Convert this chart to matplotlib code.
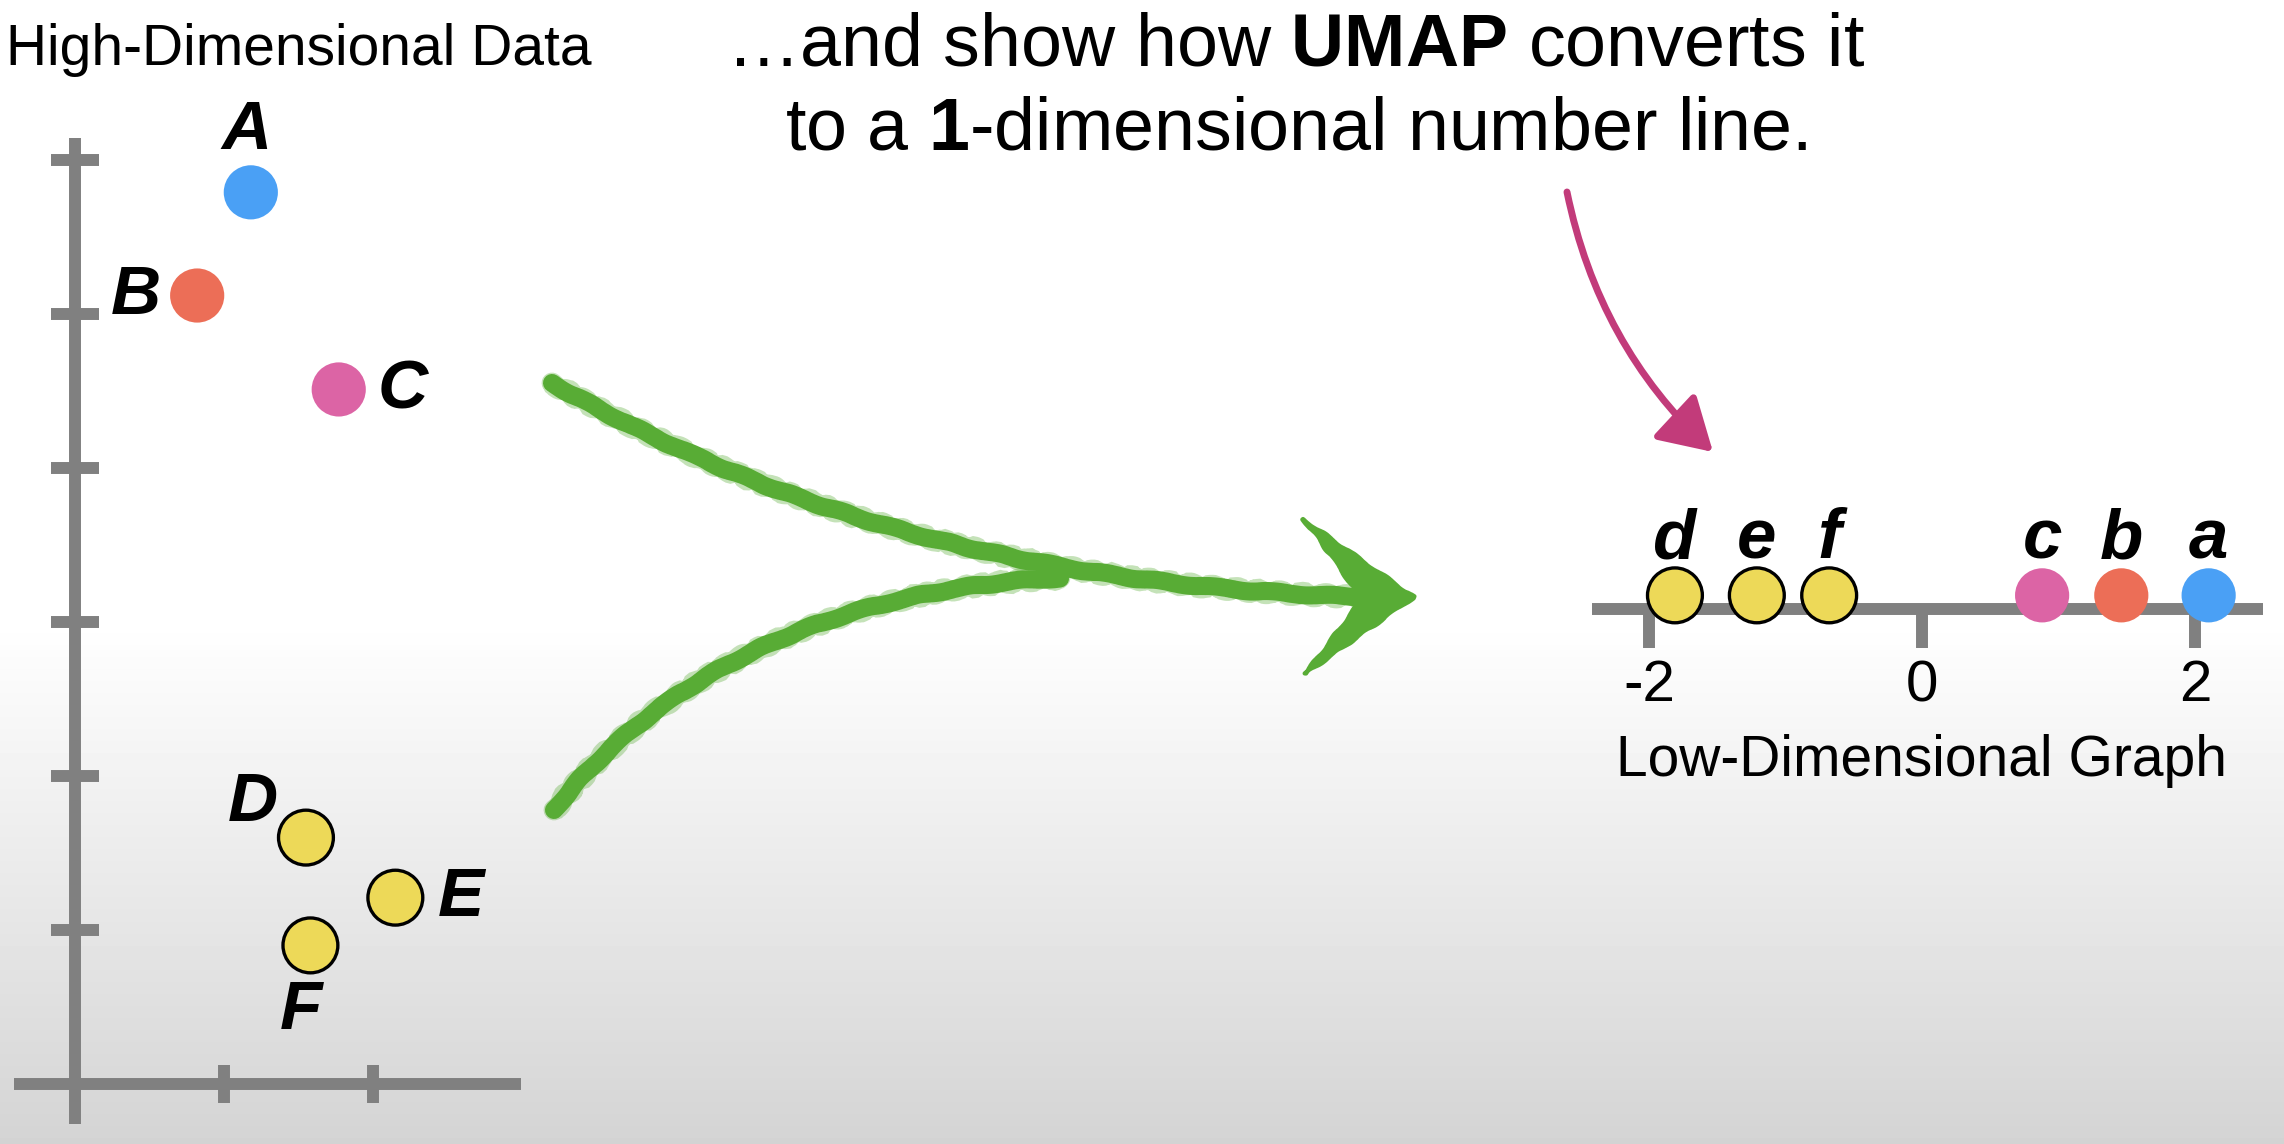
import numpy as np
import matplotlib
matplotlib.use("Agg")
import matplotlib.pyplot as plt
from matplotlib.path import Path
from matplotlib.patches import PathPatch, Polygon, FancyArrowPatch

plt.rcParams['font.family'] = ['Liberation Sans', 'DejaVu Sans']
plt.rcParams['mathtext.fontset'] = 'custom'
plt.rcParams['mathtext.rm'] = 'Liberation Sans'
plt.rcParams['mathtext.bf'] = 'Liberation Sans:bold'
plt.rcParams['axes.unicode_minus'] = False

W, H = 2284, 1144

# high-dimensional data (left)
hi_names = ['A', 'B', 'C', 'D', 'E', 'F']
hi_x = [1.18, 0.82, 1.77, 1.55, 2.15, 1.58]
hi_y = [5.79, 5.12, 4.51, 1.60, 1.21, 0.90]

# low-dimensional graph (right)
lo_names = ['d', 'e', 'f', 'c', 'b', 'a']
lo_x = [-1.81, -1.21, -0.68, 0.88, 1.46, 2.10]
lo_ticks = [-2, 0, 2]

BLUE, RED, PINK, YEL = '#4aa0f5', '#ec6e57', '#dc64a5', '#edd958'
hi_cols = [BLUE, RED, PINK, YEL, YEL, YEL]
lo_cols = [YEL, YEL, YEL, PINK, RED, BLUE]
GREY = '#808080'
GREEN = '#58ac35'

# label offsets in points (layout only)
hi_off = [(-3, 44), (-44, 0), (46, -1), (-38, 25), (47, 0), (-7, -47)]

fig = plt.figure(figsize=(W / 100, H / 100), dpi=100)

# background / decoration layer in pixel coords
bg = fig.add_axes([0, 0, 1, 1])
bg.set_xlim(0, W)
bg.set_ylim(H, 0)
bg.axis('off')
rows = np.arange(H)
ramp = np.clip((rows - 620) / (H - 620), 0, 1)
grad = (1 - 0.17 * ramp)[:, None]
bg.imshow(grad, cmap='gray', vmin=0, vmax=1, extent=[0, W, H, 0], aspect='auto', zorder=0)

# green merging arrow
def bez(p0, p1, p2, p3):
    return Path([p0, p1, p2, p3], [Path.MOVETO, Path.CURVE4, Path.CURVE4, Path.CURVE4])

upper = bez((552, 383), (790, 520), (1050, 590), (1395, 598))
lower = bez((554, 810), (640, 700), (800, 590), (1060, 578))
for p in (upper, lower):
    pp = PathPatch(p, fc='none', ec=GREEN, lw=13, capstyle='round', zorder=2)
    pp.set_sketch_params(1.0, 60, 2)
    bg.add_patch(pp)
    rough = PathPatch(p, fc='none', ec=GREEN, lw=15, capstyle='round', zorder=2, alpha=0.35)
    rough.set_sketch_params(2.0, 25, 3)
    bg.add_patch(rough)
head = Polygon([(1303, 519), (1414, 597), (1305, 674), (1322, 652), (1362, 599), (1318, 538)],
               closed=True, fc=GREEN, ec=GREEN, lw=3, joinstyle='round', zorder=2)
head.set_sketch_params(1.0, 40, 2)
bg.add_patch(head)

# pink pointer arrow
arr = FancyArrowPatch((1567, 192), (1713, 452), connectionstyle='arc3,rad=0.16',
                      arrowstyle='-|>,head_length=32,head_width=19', mutation_scale=1,
                      color='#c23b7a', lw=5, capstyle='round', shrinkA=0, shrinkB=0, zorder=3)
bg.add_patch(arr)

# texts
bg.text(6, 65, 'High-Dimensional Data', fontsize=41, ha='left', va='baseline')
bg.text(1296, 65, '\u2026and show how $\\mathbf{UMAP}$ converts it', fontsize=53,
        ha='center', va='baseline')
bg.text(1296, 150, 'to a $\\mathbf{1}$-dimensional number line.', fontsize=53,
        ha='center', va='baseline')

# left: high-dimensional scatter
axL = fig.add_axes([0, 0, 540 / W, 1])
axL.set_facecolor('none')
axL.set_xlim(-75 / 149, 465 / 149)
axL.set_ylim(-60 / 154, 1084 / 154)
for s in ('top', 'right'):
    axL.spines[s].set_visible(False)
axL.spines['left'].set_position(('data', 0))
axL.spines['bottom'].set_position(('data', 0))
axL.spines['left'].set_bounds(-0.26, 6.14)
axL.spines['bottom'].set_bounds(-0.41, 2.99)
for s in ('left', 'bottom'):
    axL.spines[s].set_color(GREY)
    axL.spines[s].set_linewidth(8.6)
    axL.spines[s].set_capstyle('butt')
axL.set_xticks([1, 2])
axL.set_yticks([1, 2, 3, 4, 5, 6])
axL.tick_params(direction='inout', width=8.6, color=GREY, labelleft=False, labelbottom=False)
axL.tick_params(axis='x', length=28)
axL.tick_params(axis='y', length=35)

edge = ['none' if c != YEL else 'black' for c in hi_cols]
lws = [0 if c != YEL else 2.4 for c in hi_cols]
sizes = [39 ** 2 if c != YEL else 39.5 ** 2 for c in hi_cols]
axL.scatter(hi_x, hi_y, s=sizes, c=hi_cols, edgecolors=edge, linewidths=lws, zorder=4, clip_on=False)
for name, x, y, off in zip(hi_names, hi_x, hi_y, hi_off):
    axL.annotate(name, (x, y), xytext=off, textcoords='offset points', ha='center', va='center',
                 fontsize=50, fontweight='bold', fontstyle='italic', zorder=5)

# right: 1-D number line
axR = fig.add_axes([1560 / W, (H - 800) / H, 724 / W, 350 / H])
axR.set_facecolor('none')
axR.set_xlim(-2.652, 2.652)
axR.set_ylim(-(800 - 609) / 136.5, (609 - 450) / 136.5)
for s in ('top', 'right', 'left'):
    axR.spines[s].set_visible(False)
axR.spines['bottom'].set_position(('data', 0))
axR.spines['bottom'].set_bounds(-2.42, 2.5)
axR.spines['bottom'].set_color(GREY)
axR.spines['bottom'].set_linewidth(8.6)
axR.spines['bottom'].set_capstyle('butt')
axR.set_yticks([])
axR.set_xticks(lo_ticks)
axR.tick_params(axis='x', direction='out', length=28, width=8.6, color=GREY,
                labelsize=42, pad=8)
axR.set_xlabel('Low-Dimensional Graph', fontsize=41, labelpad=15)

edge = ['none' if c != YEL else 'black' for c in lo_cols]
lws = [0 if c != YEL else 2.4 for c in lo_cols]
sizes = [39 ** 2 if c != YEL else 39.5 ** 2 for c in lo_cols]
lo_y = [0.10] * len(lo_x)
axR.scatter(lo_x, lo_y, s=sizes, c=lo_cols, edgecolors=edge, linewidths=lws, zorder=4, clip_on=False)
for name, x, y in zip(lo_names, lo_x, lo_y):
    axR.annotate(name, (x, y), xytext=(0, 26.6), textcoords='offset points', ha='center',
                 va='baseline', fontsize=51, fontweight='bold', fontstyle='italic', zorder=5)

fig.savefig('out.png', dpi=100)
